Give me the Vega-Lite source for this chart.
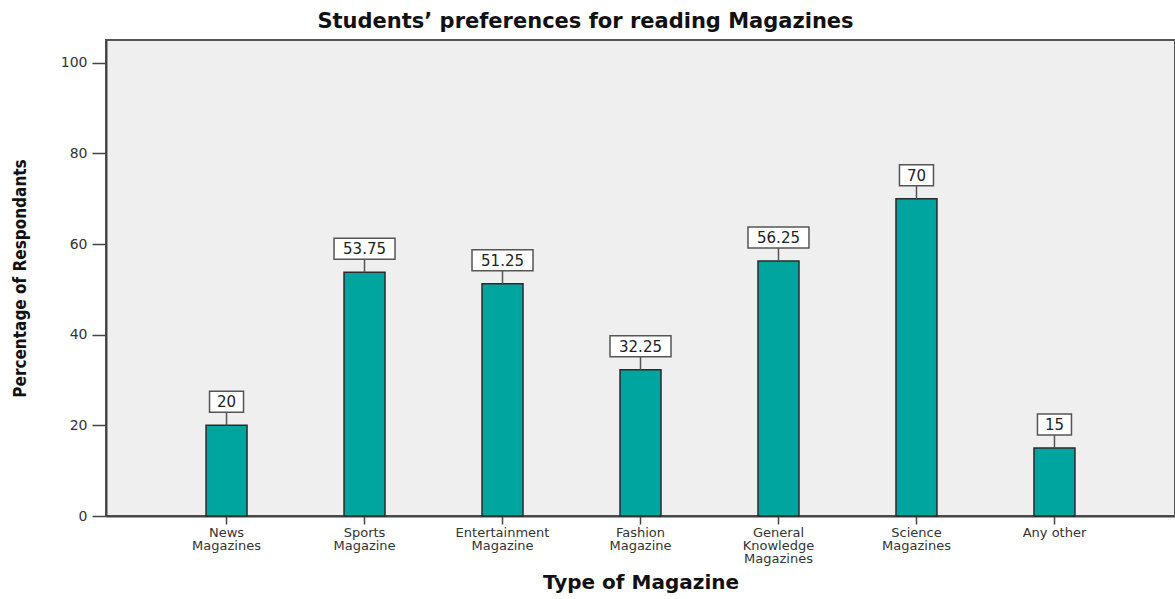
{
  "$schema": "https://vega.github.io/schema/vega-lite/v6.json",
  "width": 1069,
  "height": 476,
  "autosize": {"type": "none"},
  "padding": {"left": 106, "top": 40, "right": 0, "bottom": 83},
  "background": "white",
  "title": {
    "text": "Students’ preferences for reading Magazines",
    "font": "DejaVu Sans",
    "fontSize": 21,
    "fontWeight": "bold",
    "color": "#111111",
    "anchor": "middle",
    "frame": "group",
    "dx": -55,
    "dy": 23,
    "offset": 10,
    "baseline": "bottom"
  },
  "config": {"view": {"fill": "#efefef", "stroke": "#555555", "strokeWidth": 2}},
  "data": {
    "values": [
      {"type": "News Magazines", "value": 20},
      {"type": "Sports Magazine", "value": 53.75},
      {"type": "Entertainment Magazine", "value": 51.25},
      {"type": "Fashion Magazine", "value": 32.25},
      {"type": "General Knowledge Magazines", "value": 56.25},
      {"type": "Science Magazines", "value": 70},
      {"type": "Any other", "value": 15}
    ]
  },
  "encoding": {
    "x": {
      "field": "type",
      "type": "nominal",
      "sort": null,
      "scale": {"paddingInner": 0.703, "paddingOuter": 0.725},
      "axis": {
        "title": "Type of Magazine",
        "labelAngle": 0,
        "labelExpr": "datum.value == 'Any other' ? datum.value : split(datum.value, ' ')",
        "labelFont": "DejaVu Sans",
        "labelFontSize": 13,
        "labelLineHeight": 13,
        "labelColor": "#333333",
        "labelBaseline": "top",
        "labelLimit": 0,
        "labelOverlap": false,
        "tickSize": 8,
        "tickColor": "#444444",
        "tickWidth": 1.5,
        "domainColor": "#444444",
        "domainWidth": 2,
        "labelPadding": 2,
        "titleFont": "DejaVu Sans",
        "titleFontSize": 20,
        "titleFontWeight": "bold",
        "titleColor": "#111111",
        "titleY": 72,
        "titleBaseline": "alphabetic"
      }
    },
    "y": {
      "field": "value",
      "type": "quantitative",
      "scale": {"domain": [0, 105], "nice": false},
      "axis": {
        "title": "Percentage of Respondants",
        "values": [0, 20, 40, 60, 80, 100],
        "grid": false,
        "domainColor": "#444444",
        "domainWidth": 2,
        "tickColor": "#444444",
        "tickWidth": 1.5,
        "tickSize": 14,
        "labelPadding": 5,
        "labelFont": "DejaVu Sans",
        "labelFontSize": 14,
        "labelColor": "#333333",
        "titleFont": "DejaVu Sans Condensed, Liberation Sans, sans-serif",
        "titleFontSize": 17,
        "titleFontWeight": "bold",
        "titleColor": "#111111",
        "titleX": -86,
        "titleY": 238,
        "titleAngle": -90,
        "titleAlign": "center",
        "titleBaseline": "middle"
      }
    }
  },
  "layer": [
    {
      "mark": {"type": "bar", "fill": "#00a59f", "stroke": "#2a2a2a", "strokeWidth": 1.5}
    },
    {
      "mark": {"type": "point", "filled": true, "fill": "white", "stroke": "#555555", "strokeWidth": 1.5, "size": 4, "opacity": 1},
      "encoding": {
        "shape": {
          "condition": {"test": "datum.value % 1 != 0", "value": "M-30.5,-34H30.5V-13H-30.5Z M0,-13V0"},
          "value": "M-17,-34H17V-13H-17Z M0,-13V0"
        }
      }
    },
    {
      "mark": {"type": "text", "dy": -23, "baseline": "middle", "font": "DejaVu Sans", "fontSize": 15, "color": "#222222"},
      "encoding": {"text": {"field": "value", "type": "quantitative"}}
    }
  ]
}
